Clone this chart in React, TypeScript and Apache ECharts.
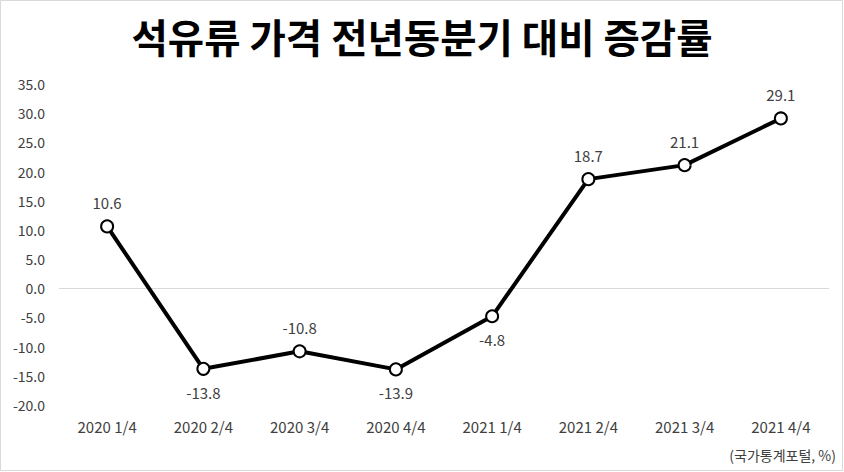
import React, { useEffect, useRef } from "react";
import * as echarts from "echarts";

const categories = ["2020 1/4", "2020 2/4", "2020 3/4", "2020 4/4", "2021 1/4", "2021 2/4", "2021 3/4", "2021 4/4"];
const values = [10.6, -13.8, -10.8, -13.9, -4.8, 18.7, 21.1, 29.1];
const labelPositions = ["top", "bottom", "top", "bottom", "bottom", "top", "top", "top"];
const titleText = "석유류 가격 전년동분기 대비 증감률";
const sourceText = "(국가통계포털, %)";

const FONT = "'Noto Sans CJK KR', 'Noto Sans', sans-serif";

export default function App() {
  const ref = useRef<HTMLDivElement>(null);
  useEffect(() => {
    const chart = echarts.init(ref.current!, null, { renderer: "svg" });
    chart.setOption({
      animation: false,
      backgroundColor: "#ffffff",
      title: {
        text: titleText,
        left: "center",
        top: 11,
        textStyle: { fontFamily: FONT, fontSize: 39.5, fontWeight: "bold", color: "#000" },
      },
      graphic: [
        {
          type: "rect",
          shape: { x: 0.5, y: 0.5, width: 842, height: 470 },
          style: { fill: "none", stroke: "#d9d9d9", lineWidth: 1 },
          silent: true,
        },
        {
          type: "text",
          right: 8,
          top: 448,
          style: { text: sourceText, font: `14px ${FONT}`, fill: "#404040" },
        },
      ],
      grid: { left: 59, right: 15, top: 84, bottom: 67, containLabel: false },
      xAxis: {
        type: "category",
        data: categories,
        boundaryGap: true,
        axisLine: { show: false },
        axisTick: { show: false },
        axisLabel: { fontFamily: FONT, fontSize: 15, color: "#404040", margin: 14 },
      },
      yAxis: {
        type: "value",
        min: -20,
        max: 35,
        interval: 5,
        axisLine: { show: false },
        axisTick: { show: false },
        splitLine: { show: false },
        axisLabel: {
          fontFamily: FONT,
          fontSize: 14,
          color: "#404040",
          margin: 14,
          formatter: (v: number) => v.toFixed(1),
        },
      },
      series: [
        {
          type: "line",
          data: values.map((v, i) => ({
            value: v,
            label: { position: labelPositions[i] },
          })),
          lineStyle: { color: "#000", width: 4 },
          itemStyle: { color: "#fff", borderColor: "#000", borderWidth: 2 },
          symbol: "circle",
          symbolSize: 12,
          label: {
            show: true,
            fontFamily: FONT,
            fontSize: 15,
            color: "#404040",
            distance: 9,
            formatter: (p: any) => p.value.toFixed(1),
          },
          markLine: {
            silent: true,
            symbol: "none",
            label: { show: false },
            lineStyle: { color: "#d9d9d9", width: 1, type: "solid" },
            data: [{ yAxis: 0 }],
            z: 1,
          },
          z: 3,
        },
      ],
    });
    return () => chart.dispose();
  }, []);
  return (
    <div
      ref={ref}
      style={{ position: "fixed", left: 0, top: 0, width: 844, height: 472 }}
    />
  );
}
